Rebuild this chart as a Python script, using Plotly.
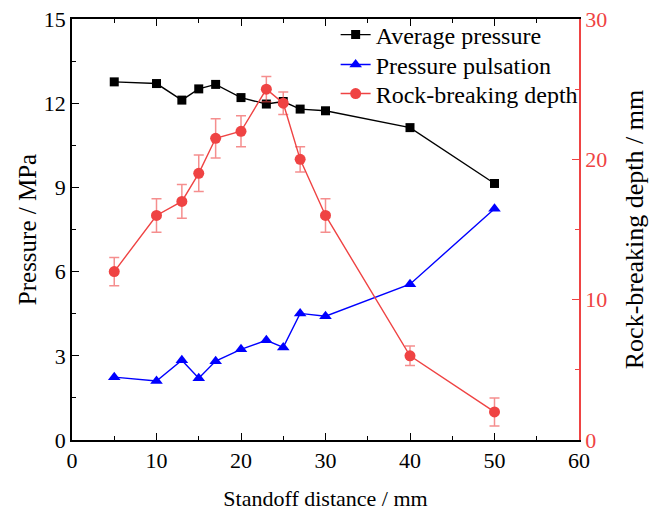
import plotly.graph_objects as go

distance = [5, 10, 13, 15, 17, 20, 23, 25, 27, 30, 40, 50]
avg_pressure = [12.76, 12.70, 12.11, 12.51, 12.67, 12.20, 11.97, 12.06, 11.79, 11.73, 11.13, 9.14]
pulsation = [2.24, 2.10, 2.84, 2.20, 2.81, 3.23, 3.55, 3.30, 4.51, 4.41, 5.55, 8.24]
depth = [12.0, 16.0, 17.0, 19.0, 21.5, 22.0, 25.0, 24.0, 20.0, 16.0, 6.0, 2.0]
depth_err = [1.0, 1.2, 1.2, 1.3, 1.4, 1.1, 0.9, 0.8, 0.9, 1.2, 0.7, 1.0]

RED = "#EF4343"
FONT = "Liberation Serif"

fig = go.Figure()
fig.add_trace(go.Scatter(x=distance, y=avg_pressure, name="Average pressure", legend="legend",
                         mode="lines+markers", line=dict(color="black", width=1.4),
                         marker=dict(symbol="square", size=9, color="black")))
fig.add_trace(go.Scatter(x=distance, y=pulsation, name="Pressure pulsation", legend="legend2",
                         mode="lines+markers", line=dict(color="#0000FF", width=1.4),
                         marker=dict(symbol="triangle-up", size=11, color="#0000FF")))
fig.add_trace(go.Scatter(x=distance, y=depth, name="Rock-breaking depth", yaxis="y2", legend="legend3",
                         mode="lines+markers", line=dict(color=RED, width=1.4),
                         marker=dict(symbol="circle", size=11, color=RED),
                         error_y=dict(type="data", array=depth_err, visible=True,
                                      color="rgba(239,67,67,0.6)", thickness=1.5, width=5)))

leg = dict(x=0.52, xanchor="left", yanchor="middle",
           bgcolor="rgba(255,255,255,0)", font=dict(size=24, family=FONT))

fig.update_layout(
    width=649, height=515,
    margin=dict(l=72, r=70, t=19, b=75, autoexpand=False),
    paper_bgcolor="white", plot_bgcolor="white",
    font=dict(family=FONT, size=22, color="black"),
    showlegend=True,
    legend=dict(leg, y=0.962),
    legend2=dict(leg, y=0.891),
    legend3=dict(leg, y=0.822),
    xaxis=dict(range=[0, 60], tickvals=[0, 10, 20, 30, 40, 50, 60], automargin=False,
               showline=True, linecolor="black", linewidth=1.5, mirror="ticks",
               ticks="inside", ticklen=7, tickwidth=1.2, tickcolor="black",
               minor=dict(dtick=5, ticks="inside", ticklen=4, tickcolor="black", tickwidth=1.2),
               showgrid=False, zeroline=False,
               title=dict(text="Standoff distance / mm", font=dict(size=22), standoff=18),
               tickfont=dict(size=22)),
    yaxis=dict(range=[0, 15], tickvals=[0, 3, 6, 9, 12, 15], automargin=False,
               showline=True, linecolor="black", linewidth=1.5,
               ticks="inside", ticklen=7, tickwidth=1.2, tickcolor="black",
               minor=dict(dtick=1.5, ticks="inside", ticklen=4, tickcolor="black", tickwidth=1.2),
               showgrid=False, zeroline=False,
               title=dict(text="Pressure / MPa", font=dict(size=25), standoff=0),
               tickfont=dict(size=22)),
    yaxis2=dict(range=[0, 30], tickvals=[0, 10, 20, 30], overlaying="y", side="right", automargin=False,
                showline=True, linecolor=RED, linewidth=1.5,
                ticks="inside", ticklen=7, tickwidth=1.2, tickcolor=RED,
                minor=dict(dtick=5, ticks="inside", ticklen=4, tickcolor=RED, tickwidth=1.2),
                showgrid=False, zeroline=False,
                tickfont=dict(size=22, color=RED),
                title=dict(text="Rock-breaking depth / mm", font=dict(size=26, color="black"), standoff=20)),
)

fig.write_html("out.html")
